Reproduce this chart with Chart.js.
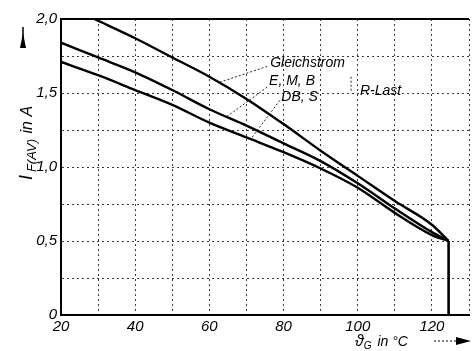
<!DOCTYPE html>
<html>
<head>
<meta charset="utf-8">
<script src="https://cdn.jsdelivr.net/npm/chart.js@4/dist/chart.umd.min.js"></script>
<style>
html,body{margin:0;padding:0;background:#fff;}
#wrap{width:472px;height:351px;position:relative;}
</style>
</head>
<body>
<div id="wrap"><canvas id="c"></canvas></div>
<script>
// ---- data ----
const tempsG      = [29, 40, 50, 60, 70, 80, 90, 100, 110, 120, 124.5];
const gleichstrom = [2.0, 1.87, 1.74, 1.61, 1.46, 1.29, 1.11, 0.94, 0.77, 0.61, 0.5];
const temps       = [20, 30, 40, 50, 60, 70, 80, 90, 100, 110, 120, 124.5];
const emb         = [1.84, 1.74, 1.64, 1.52, 1.39, 1.28, 1.16, 1.04, 0.89, 0.72, 0.56, 0.5];
const dbs         = [1.71, 1.62, 1.52, 1.42, 1.30, 1.20, 1.10, 0.99, 0.86, 0.69, 0.54, 0.5];
const dropT       = [124.5, 124.5];
const dropI       = [0.5, 0];
const xTickLabels = [20, 40, 60, 80, 100, 120];
const yTickLabels = [0, 0.5, 1.0, 1.5, 2.0];

// annotation texts, anchored in data units
const labelTexts = ['Gleichstrom', 'E, M, B', 'DB, S', 'R-Last'];
const labelT     = [76.4, 76.1, 79.4, 100.6];
const labelI     = [1.70, 1.58, 1.47, 1.51];
// leader lines [t1, i1, t2, i2]
const leaders = [
  [75.6, 1.68, 62.5, 1.57],
  [75.6, 1.54, 64.7, 1.34],
  [79.0, 1.45, 71.2, 1.19],
  [98.2, 1.61, 98.2, 1.50]
];

const pts = (xs, ys) => xs.map((v, i) => ({x: v, y: ys[i]}));
const fmtY = v => {
  const r = Math.round(v * 100) / 100;
  if (!yTickLabels.some(t => Math.abs(t - r) < 1e-6)) return '';
  return r === 0 ? '0' : r.toFixed(1).replace('.', ',');
};

const curveStyle = {borderColor:'#000', borderWidth:2.4, pointRadius:0, fill:false, cubicInterpolationMode:'monotone'};

const overlay = {
  id: 'overlay',
  afterDatasetsDraw(chart) {
    const {ctx, chartArea: a, scales: {x, y}} = chart;
    ctx.save();
    // top frame line
    ctx.strokeStyle = '#000'; ctx.lineWidth = 2; ctx.setLineDash([]);
    ctx.beginPath(); ctx.moveTo(a.left, a.top); ctx.lineTo(a.right, a.top); ctx.stroke();
    // leaders
    ctx.lineWidth = 1; ctx.setLineDash([2, 2]); ctx.strokeStyle = '#222';
    leaders.forEach(l => {
      ctx.beginPath();
      ctx.moveTo(x.getPixelForValue(l[0]), y.getPixelForValue(l[1]));
      ctx.lineTo(x.getPixelForValue(l[2]), y.getPixelForValue(l[3]));
      ctx.stroke();
    });
    ctx.setLineDash([]);
    // curve labels
    ctx.fillStyle = '#000';
    ctx.font = 'italic 14px "Liberation Sans", "DejaVu Sans", sans-serif';
    ctx.textBaseline = 'middle'; ctx.textAlign = 'left';
    labelTexts.forEach((t, i) => {
      ctx.fillText(t, x.getPixelForValue(labelT[i]), y.getPixelForValue(labelI[i]));
    });
    ctx.restore();
  },
  afterDraw(chart) {
    const {ctx} = chart;
    ctx.save();
    ctx.fillStyle = '#000'; ctx.strokeStyle = '#000';
    // y axis title, rotated
    ctx.translate(27, 143);
    ctx.rotate(-Math.PI / 2);
    const fBig = 'italic 18px "Liberation Sans", sans-serif';
    const fSub = 'italic 13px "Liberation Sans", sans-serif';
    const fMid = 'italic 16px "Liberation Sans", sans-serif';
    ctx.textBaseline = 'alphabetic'; ctx.textAlign = 'left';
    ctx.font = fBig; const w1 = ctx.measureText('I').width;
    ctx.font = fSub; const w2 = ctx.measureText('F(AV)').width;
    ctx.font = fMid; const w3 = ctx.measureText(' in A').width;
    let sx = -(w1 + w2 + w3 + 4) / 2;
    ctx.font = fBig; ctx.fillText('I', sx, 5); sx += w1 + 3;
    ctx.font = fSub; ctx.fillText('F(AV)', sx, 9); sx += w2 + 1;
    ctx.font = fMid; ctx.fillText(' in A', sx, 5);
    ctx.setTransform(1, 0, 0, 1, 0, 0);
    // y arrow (pointing up)
    ctx.lineWidth = 1.5;
    ctx.beginPath(); ctx.moveTo(23, 27); ctx.lineTo(23, 48); ctx.stroke();
    ctx.beginPath(); ctx.moveTo(23, 33); ctx.lineTo(26, 48); ctx.lineTo(20, 48); ctx.closePath(); ctx.fill();
    // x axis title
    let tx = 355;
    ctx.font = 'italic 16px "Liberation Sans", sans-serif';
    ctx.fillText('\u03D1', tx, 346); tx += ctx.measureText('\u03D1').width;
    ctx.font = 'italic 10px "Liberation Sans", sans-serif';
    ctx.fillText('G', tx, 349); tx += ctx.measureText('G').width;
    ctx.font = 'italic 14px "Liberation Sans", sans-serif';
    ctx.fillText(' in \u00B0C', tx + 2, 346);
    // x arrow
    ctx.lineWidth = 1; ctx.setLineDash([2, 2]);
    ctx.beginPath(); ctx.moveTo(434, 341); ctx.lineTo(458, 341); ctx.stroke();
    ctx.setLineDash([]);
    ctx.beginPath(); ctx.moveTo(471, 341); ctx.lineTo(456, 337); ctx.lineTo(456, 345); ctx.closePath(); ctx.fill();
    ctx.restore();
  }
};

new Chart(document.getElementById('c'), {
  type: 'line',
  data: {
    datasets: [
      Object.assign({label:'Gleichstrom', data: pts(tempsG, gleichstrom)}, curveStyle),
      Object.assign({label:'E, M, B', data: pts(temps, emb)}, curveStyle),
      Object.assign({label:'DB, S', data: pts(temps, dbs)}, curveStyle),
      {label:'drop', data: pts(dropT, dropI), borderColor:'#000', borderWidth:2.6, pointRadius:0, fill:false}
    ]
  },
  options: {
    responsive: true,
    maintainAspectRatio: false,
    animation: false,
    events: [],
    layout: {padding: {top: 19, right: 0, left: 0, bottom: 0}},
    plugins: {legend: {display: false}, tooltip: {enabled: false}},
    scales: {
      x: {
        type: 'linear', min: 20, max: 130,
        afterFit: s => { s.height = 36; },
        ticks: {
          stepSize: 10, autoSkip: false, maxRotation: 0, padding: 3,
          color: '#000',
          font: {family: '"Liberation Sans", sans-serif', size: 15, style: 'italic'},
          callback: v => xTickLabels.includes(v) ? String(v) : ''
        },
        grid: {color: '#3a3a3a', lineWidth: 1, drawTicks: false},
        border: {display: true, color: '#000', width: 2, dash: [2, 3]}
      },
      y: {
        type: 'linear', min: 0, max: 2.0,
        afterFit: s => { s.width = 61; },
        ticks: {
          stepSize: 0.25, autoSkip: false, padding: 4,
          color: '#000',
          font: {family: '"Liberation Sans", sans-serif', size: 15, style: 'italic'},
          callback: fmtY
        },
        grid: {color: '#3a3a3a', lineWidth: 1, drawTicks: false},
        border: {display: true, color: '#000', width: 2, dash: [2, 3]}
      }
    }
  },
  plugins: [overlay]
});
</script>
</body>
</html>
